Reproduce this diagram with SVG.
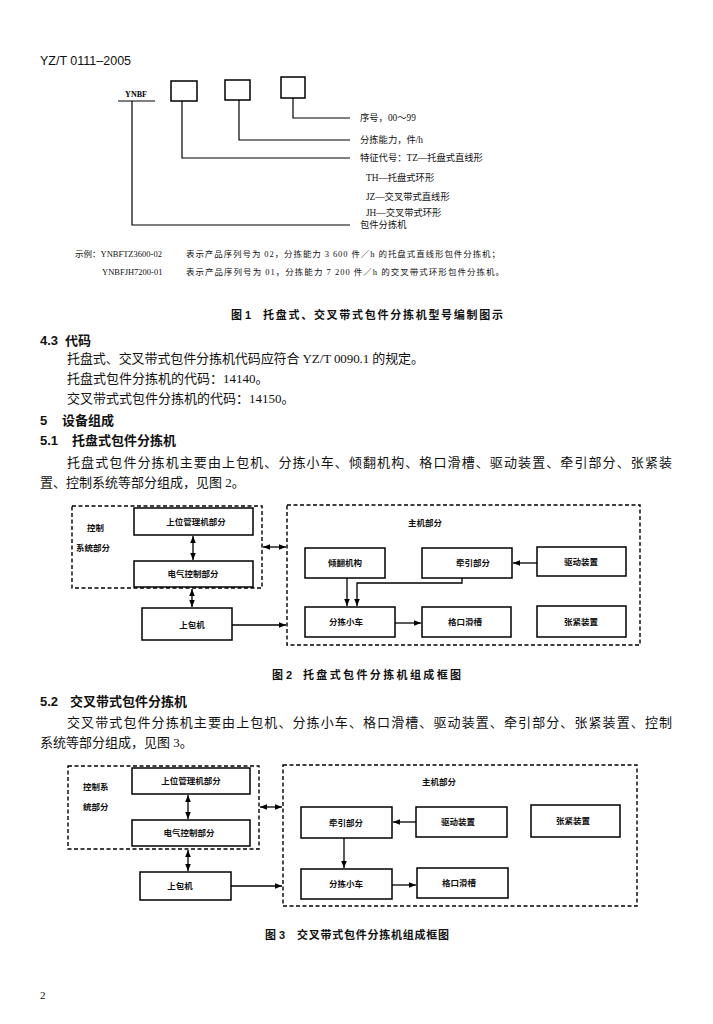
<svg xmlns="http://www.w3.org/2000/svg" width="713" height="1024" viewBox="0 0 713 1024">
<defs>
<style>
.box{fill:none;stroke:#000;stroke-width:1.5}
.dash{fill:none;stroke:#000;stroke-width:1.4;stroke-dasharray:4 2.5}
.ln{fill:none;stroke:#000;stroke-width:1.2}
.arr{fill:none;stroke:#000;stroke-width:1.3}
.lbl{font-family:"Noto Sans CJK SC",sans-serif;font-size:8.5px;font-weight:bold;text-anchor:middle;fill:#111}
.tl{font-family:"Noto Sans CJK SC",sans-serif;font-size:8.5px;font-weight:bold;fill:#111}
.body{font-family:"Liberation Serif","Noto Sans CJK SC",serif;font-size:13px;fill:#111}
.hd{font-family:"Liberation Sans","Noto Sans CJK SC",sans-serif;font-size:13px;font-weight:bold;fill:#111}
.cap{font-family:"Liberation Sans","Noto Sans CJK SC",sans-serif;font-size:11px;font-weight:bold;fill:#111}
.sm{font-family:"Liberation Serif","Noto Sans CJK SC",serif;font-size:8.5px;fill:#111}
.ml{font-family:"Liberation Serif","Noto Sans CJK SC",serif;font-size:9.3px;fill:#111}
</style>
<marker id="ah" viewBox="0 0 10 8" refX="10" refY="4" markerWidth="7" markerHeight="5.6" markerUnits="userSpaceOnUse" orient="auto-start-reverse"><path d="M0,0 L10,4 L0,8 z" fill="#000"/></marker>
</defs>
<rect width="713" height="1024" fill="#fff"/>

<text x="40" y="65" font-family="Liberation Sans, sans-serif" font-size="12.5" fill="#111">YZ/T 0111–2005</text>

<!-- Figure 1 model code -->
<g id="fig1">
<g id="ynbf"><text x="136" y="97" text-anchor="middle" font-family="Liberation Serif, serif" font-size="8" font-weight="bold">YNBF</text></g>
<g id="code-box1"><rect class="box" x="171" y="81" width="26" height="20"/></g>
<g id="code-box2"><rect class="box" x="225" y="80" width="25" height="20"/></g>
<g id="code-box3"><rect class="box" x="281" y="77" width="24" height="21"/></g>
<g id="fig1-connectors">
<line class="ln" x1="118" y1="101" x2="155" y2="101"/>
<polyline class="ln" points="132,101 132,225 350,225"/>
<polyline class="ln" points="182,101 182,158 350,158"/>
<polyline class="ln" points="239,100 239,140 350,140"/>
<polyline class="ln" points="293,98 293,118 350,118"/>
</g>
<g id="fig1-labels">
<text class="ml" x="360" y="121">序号，00～99</text>
<text class="ml" x="360" y="143">分拣能力，件/h</text>
<text class="ml" x="360" y="161">特征代号：TZ—托盘式直线形</text>
<text class="ml" x="366" y="181">TH—托盘式环形</text>
<text class="ml" x="366" y="200">JZ—交叉带式直线形</text>
<text class="ml" x="366" y="216">JH—交叉带式环形</text>
<text class="ml" x="360" y="228">包件分拣机</text>
</g>
</g>

<text class="sm" x="75" y="257">示例：YNBFTZ3600-02</text>
<text class="sm" x="186" y="257" textLength="314" lengthAdjust="spacing">表示产品序列号为 02，分拣能力 3 600 件／h 的托盘式直线形包件分拣机；</text>
<text class="sm" x="102" y="275">YNBFJH7200-01</text>
<text class="sm" x="186" y="275" textLength="318" lengthAdjust="spacing">表示产品序列号为 01，分拣能力 7 200 件／h 的交叉带式环形包件分拣机。</text>

<text class="cap" x="231" y="319">图 1</text>
<text class="cap" x="263" y="319" textLength="240" lengthAdjust="spacing">托盘式、交叉带式包件分拣机型号编制图示</text>

<!-- Body text -->
<text class="hd" x="40" y="344.5">4.3</text>
<text class="hd" x="65" y="344.5">代码</text>
<text class="body" x="67" y="362.5" textLength="357" lengthAdjust="spacing">托盘式、交叉带式包件分拣机代码应符合 YZ/T 0090.1 的规定。</text>
<text class="body" x="67" y="382.5">托盘式包件分拣机的代码：14140。</text>
<text class="body" x="67" y="403">交叉带式式包件分拣机的代码：14150。</text>
<text class="hd" x="40" y="425">5</text>
<text class="hd" x="62" y="425">设备组成</text>
<text class="hd" x="40" y="445">5.1</text>
<text class="hd" x="72" y="445">托盘式包件分拣机</text>
<text class="body" x="67" y="466.5" textLength="605" lengthAdjust="spacing">托盘式包件分拣机主要由上包机、分拣小车、倾翻机构、格口滑槽、驱动装置、牵引部分、张紧装</text>
<text class="body" x="40" y="486.5">置、控制系统等部分组成，见图 2。</text>

<!-- Figure 2 -->
<g id="fig2">
<g id="f2-control"><rect class="dash" x="72" y="506" width="190" height="82"/>
<text class="tl" x="87" y="531">控制</text><text class="tl" x="76" y="551">系统部分</text></g>
<g id="f2-upper"><rect class="box" x="134" y="508" width="119" height="27"/><text class="lbl" x="196" y="524.5">上位管理机部分</text></g>
<g id="f2-elec"><rect class="box" x="134" y="561" width="119" height="26"/><text class="lbl" x="193" y="577">电气控制部分</text></g>
<g id="f2-loader"><rect class="box" x="142" y="608" width="90" height="32"/><text class="lbl" x="192" y="628">上包机</text></g>
<g id="f2-main"><rect class="dash" x="287" y="505" width="353" height="140"/><text class="tl" x="408" y="526">主机部分</text></g>
<g id="f2-tilt"><rect class="box" x="305" y="548" width="80" height="30"/><text class="lbl" x="345" y="566">倾翻机构</text></g>
<g id="f2-traction"><rect class="box" x="422" y="548" width="90" height="30"/><text class="lbl" x="473" y="566">牵引部分</text></g>
<g id="f2-drive"><rect class="box" x="537" y="547" width="89" height="29"/><text class="lbl" x="581" y="565">驱动装置</text></g>
<g id="f2-cart"><rect class="box" x="305" y="607" width="90" height="30"/><text class="lbl" x="346" y="625">分拣小车</text></g>
<g id="f2-chute"><rect class="box" x="422" y="607" width="89" height="30"/><text class="lbl" x="465" y="625">格口滑槽</text></g>
<g id="f2-tension"><rect class="box" x="537" y="606" width="89" height="31"/><text class="lbl" x="581" y="624.5">张紧装置</text></g>
<g id="f2-connectors">
<line class="arr" x1="193" y1="536" x2="193" y2="560" marker-start="url(#ah)" marker-end="url(#ah)"/>
<line class="arr" x1="192" y1="589" x2="192" y2="607" marker-start="url(#ah)" marker-end="url(#ah)"/>
<line class="arr" x1="232" y1="625" x2="286" y2="625" marker-end="url(#ah)"/>
<line class="arr" x1="263" y1="547" x2="286" y2="547" marker-start="url(#ah)" marker-end="url(#ah)"/>
<line class="arr" x1="537" y1="563" x2="513" y2="563" marker-end="url(#ah)"/>
<line class="arr" x1="395" y1="623" x2="421" y2="623" marker-end="url(#ah)"/>
<line class="arr" x1="347" y1="578" x2="347" y2="606" marker-end="url(#ah)"/>
<polyline class="arr" points="462,578 462,583 357,583 357,606" marker-end="url(#ah)"/>
</g>
</g>

<text class="cap" x="272" y="679">图 2</text>
<text class="cap" x="303" y="679" textLength="158" lengthAdjust="spacing">托盘式包件分拣机组成框图</text>

<text class="hd" x="40" y="705.5">5.2</text>
<text class="hd" x="70" y="705.5">交叉带式包件分拣机</text>
<text class="body" x="67" y="726.5" textLength="605" lengthAdjust="spacing">交叉带式包件分拣机主要由上包机、分拣小车、格口滑槽、驱动装置、牵引部分、张紧装置、控制</text>
<text class="body" x="40" y="746.5">系统等部分组成，见图 3。</text>

<!-- Figure 3 -->
<g id="fig3">
<g id="f3-control"><rect class="dash" x="68" y="766" width="191" height="83"/>
<text class="tl" x="83" y="790">控制系</text><text class="tl" x="83" y="810">统部分</text></g>
<g id="f3-upper"><rect class="box" x="132" y="768" width="118" height="26"/><text class="lbl" x="191" y="784">上位管理机部分</text></g>
<g id="f3-elec"><rect class="box" x="132" y="820" width="118" height="26"/><text class="lbl" x="189" y="836">电气控制部分</text></g>
<g id="f3-loader"><rect class="box" x="140" y="872" width="91" height="28"/><text class="lbl" x="180" y="889">上包机</text></g>
<g id="f3-main"><rect class="dash" x="283" y="765" width="354" height="141"/><text class="tl" x="422" y="785">主机部分</text></g>
<g id="f3-traction"><rect class="box" x="301" y="807" width="91" height="31"/><text class="lbl" x="346" y="825.5">牵引部分</text></g>
<g id="f3-drive"><rect class="box" x="416" y="807" width="91" height="30"/><text class="lbl" x="458" y="825">驱动装置</text></g>
<g id="f3-tension"><rect class="box" x="531" y="805" width="89" height="32"/><text class="lbl" x="573" y="824">张紧装置</text></g>
<g id="f3-cart"><rect class="box" x="301" y="869" width="91" height="30"/><text class="lbl" x="346" y="887">分拣小车</text></g>
<g id="f3-chute"><rect class="box" x="417" y="868" width="91" height="30"/><text class="lbl" x="459" y="886">格口滑槽</text></g>
<g id="f3-connectors">
<line class="arr" x1="188" y1="795" x2="188" y2="819" marker-start="url(#ah)" marker-end="url(#ah)"/>
<line class="arr" x1="188" y1="850" x2="188" y2="871" marker-start="url(#ah)" marker-end="url(#ah)"/>
<line class="arr" x1="231" y1="886" x2="282" y2="886" marker-end="url(#ah)"/>
<line class="arr" x1="260" y1="807" x2="282" y2="807" marker-start="url(#ah)" marker-end="url(#ah)"/>
<line class="arr" x1="416" y1="822" x2="393" y2="822" marker-end="url(#ah)"/>
<line class="arr" x1="392" y1="885" x2="416" y2="885" marker-end="url(#ah)"/>
<line class="arr" x1="344" y1="838" x2="344" y2="868" marker-end="url(#ah)"/>
</g>
</g>

<text class="cap" x="265" y="939">图 3</text>
<text class="cap" x="297" y="939" textLength="152" lengthAdjust="spacing">交叉带式包件分拣机组成框图</text>

<text x="40" y="999" font-family="Liberation Serif, serif" font-size="11" fill="#111">2</text>
</svg>
